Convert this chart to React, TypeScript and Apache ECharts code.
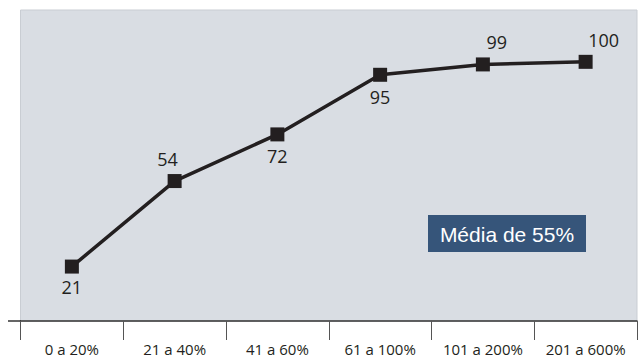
import React, { useEffect, useRef } from "react";
import * as echarts from "echarts";

const categories = ["0 a 20%", "21 a 40%", "41 a 60%", "61 a 100%", "101 a 200%", "201 a 600%"];
const values = [21, 54, 72, 95, 99, 100];
const labelPositions = ["bottom", "top", "bottom", "bottom", "top", "top"];
const labelOffsets = [[0, -2], [-7, 0], [0, 0], [0, 0], [14, 0], [18, 0]];
const annotation = "Média de 55%";

export default function App() {
  const ref = useRef<HTMLDivElement>(null);
  useEffect(() => {
    if (!ref.current) return;
    const chart = echarts.init(ref.current, null, { renderer: "svg" });
    chart.setOption({
      animation: false,
      grid: {
        left: 20.5,
        right: 2,
        top: 10,
        bottom: 37,
        show: true,
        backgroundColor: "#d9dde3",
        borderColor: "#c9cdd3",
        borderWidth: 1,
      },
      xAxis: {
        type: "category",
        data: categories,
        boundaryGap: true,
        axisLine: { lineStyle: { color: "#333", width: 1.5 } },
        axisTick: { show: true, interval: 0, length: 19, lineStyle: { color: "#555", width: 1 } },
        axisLabel: {
          interval: 0,
          margin: 20,
          fontSize: 15,
          lineHeight: 16,
          color: "#231f20",
          fontFamily: "Open Sans",
        },
      },
      yAxis: {
        type: "value",
        min: 0,
        max: 120,
        show: false,
        splitLine: { show: false },
      },
      series: [
        {
          type: "line",
          data: values.map((v, i) => ({
            value: v,
            label: {
              position: labelPositions[i],
              offset: labelOffsets[i],
            },
          })),
          symbol: "rect",
          symbolSize: 14,
          itemStyle: { color: "#231f20" },
          lineStyle: { color: "#231f20", width: 3.5 },
          label: {
            show: true,
            fontSize: 18,
            color: "#231f20",
            fontFamily: "Open Sans",
            distance: 6,
          },
        },
      ],
      graphic: [
        {
          type: "line",
          shape: { x1: 8, y1: 321, x2: 21, y2: 321 },
          style: { stroke: "#333", lineWidth: 1.5 },
        },
        {
          type: "group",
          left: 428,
          top: 215,
          children: [
            {
              type: "rect",
              shape: { x: 0, y: 0, width: 158, height: 37 },
              style: { fill: "#36557a" },
            },
            {
              type: "text",
              x: 79,
              y: 19,
              style: {
                text: annotation,
                fill: "#ffffff",
                fontSize: 21,
                fontFamily: "Liberation Sans",
                align: "center",
                verticalAlign: "middle",
              },
            },
          ],
        },
      ],
    });
    return () => chart.dispose();
  }, []);
  return <div ref={ref} style={{ width: 639, height: 358, position: "fixed", left: 0, top: 0, background: "#fff" }} />;
}
